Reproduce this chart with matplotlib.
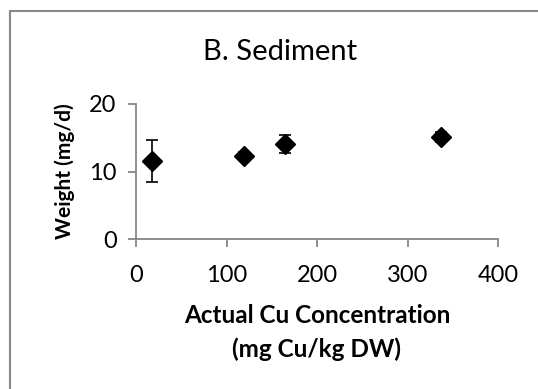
import matplotlib.pyplot as plt
from matplotlib.patches import Rectangle

plt.rcParams['font.family'] = ['Lato', 'DejaVu Sans']

# Actual Cu concentration vs weight
cu_conc = [18, 119, 165, 337]
weight = [11.6, 12.3, 14.1, 15.1]
weight_err = [3.1, 0.6, 1.3, 0.7]

x_ticks = [0, 100, 200, 300, 400]
y_ticks = [0, 10, 20]

fig = plt.figure(figsize=(5.38, 3.89), dpi=100)
ax = fig.add_axes([136/538, 1 - 239/389, (498 - 136)/538, (239 - 104)/389])

ax.errorbar(cu_conc, weight, yerr=weight_err, fmt='D', color='black',
            markersize=10, ecolor='black', elinewidth=1.2, capsize=4.5,
            capthick=1.2)

ax.set_xlim(0, 400)
ax.set_ylim(0, 20)
ax.set_xticks(x_ticks)
ax.set_yticks(y_ticks)

for s in ['top', 'right']:
    ax.spines[s].set_visible(False)
for s in ['left', 'bottom']:
    ax.spines[s].set_color('#868686')
    ax.spines[s].set_linewidth(1.3)
ax.tick_params(axis='both', colors='#868686', length=6, width=1.3,
               labelcolor='black', labelsize=17)
ax.tick_params(axis='x', pad=13)
ax.tick_params(axis='y', pad=8)

ax.set_ylabel('Weight (mg/d)', fontsize=15, fontweight='bold', labelpad=10)
ax.set_xlabel('Actual Cu Concentration\n(mg Cu/kg DW)', fontsize=17.5,
              fontweight='bold', labelpad=13, linespacing=1.5)

fig.text(280/538, 1 - 52/389, 'B. Sediment', fontsize=21, ha='center', va='center')

# chart area border
fig.patches.append(Rectangle((10/538, -0.1), 1.2, 1 - 11/389 + 0.1,
                             transform=fig.transFigure, fill=False,
                             edgecolor='#878787', linewidth=1.5))

plt.savefig('out.png', dpi=100)
